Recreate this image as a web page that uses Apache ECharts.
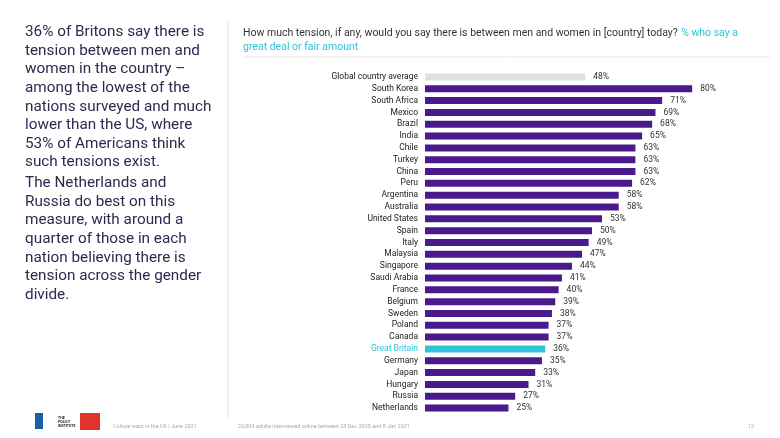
<!DOCTYPE html>
<html><head><meta charset="utf-8">
<script src="https://cdn.jsdelivr.net/npm/echarts@6/dist/echarts.min.js"></script>
<style>html,body{margin:0;padding:0;background:#fff}#c{width:780px;height:438px}</style>
</head><body><div id="c"></div>
<script>
const countries = ['Global country average','South Korea','South Africa','Mexico','Brazil','India','Chile','Turkey','China','Peru','Argentina','Australia','United States','Spain','Italy','Malaysia','Singapore','Saudi Arabia','France','Belgium','Sweden','Poland','Canada','Great Britain','Germany','Japan','Hungary','Russia','Netherlands'];
const values = [48,80,71,69,68,65,63,63,63,62,58,58,53,50,49,47,44,41,40,39,38,37,37,36,35,33,31,27,25];

const colorFor = n => n === 'Global country average' ? '#e0e0e0' : n === 'Great Britain' ? '#2ec4d6' : '#4a1a8c';
const chart = echarts.init(document.getElementById('c'));
const leftText = '36% of Britons say there is\ntension between men and\nwomen in the country –\namong the lowest of the\nnations surveyed and much\nlower than the US, where\n53% of Americans think\nsuch tensions exist.';
const leftText2 = 'The Netherlands and\nRussia do best on this\nmeasure, with around a\nquarter of those in each\nnation believing there is\ntension across the gender\ndivide.';
chart.setOption({
  animation: false,
  textStyle: { fontFamily: 'Roboto' },
  grid: { left: 425, width: 334, top: 71, height: 343 },
  xAxis: { type: 'value', min: 0, max: 100, show: false },
  yAxis: {
    type: 'category', data: countries, inverse: true,
    axisLine: { show: false }, axisTick: { show: false },
    axisLabel: {
      fontSize: 8.5, margin: 7,
      color: v => v === 'Great Britain' ? '#2ec4d6' : '#222'
    }
  },
  series: [{
    type: 'bar', barWidth: 7,
    data: values.map((v, i) => ({ value: v, itemStyle: { color: colorFor(countries[i]) } })),
    label: { show: true, position: 'right', distance: 8, fontSize: 8.5, color: '#333', formatter: '{c}%' }
  }],
  graphic: [
    { type: 'text', left: 25, top: 23, style: { text: leftText, font: '15.3px Roboto', fill: '#2b2b4f', lineHeight: 18.6 } },
    { type: 'text', left: 25, top: 174, style: { text: leftText2, font: '15.3px Roboto', fill: '#2b2b4f', lineHeight: 18.6 } },
    { type: 'line', shape: { x1: 228, y1: 20, x2: 228, y2: 418 }, style: { stroke: '#e4e4e4', lineWidth: 1 } },
    { type: 'line', shape: { x1: 243, y1: 57, x2: 770, y2: 57 }, style: { stroke: '#e4e4e4', lineWidth: 1 } },
    { type: 'text', left: 243, top: 26, style: { rich: { a: { fontSize: 10.5, fill: '#333', fontFamily: 'Roboto' }, b: { fontSize: 10.5, fill: '#2ec4d6', fontFamily: 'Roboto' } },
      text: '{a|How much tension, if any, would you say there is between men and women in [country] today?} {b|% who say a}\n{b|great deal or fair amount}', lineHeight: 14 } },
    { type: 'rect', shape: { x: 35, y: 413, width: 8, height: 16 }, style: { fill: '#1b5ea8' } },
    { type: 'text', left: 58, top: 416, style: { text: 'THE\nPOLICY\nINSTITUTE', font: 'bold 3.5px Roboto', fill: '#222', lineHeight: 4 } },
    { type: 'rect', shape: { x: 80, y: 413, width: 20, height: 17 }, style: { fill: '#e2332a' } },
    { type: 'text', left: 113, top: 424, style: { text: 'Culture wars in the UK | June 2021', font: '5.5px Roboto', fill: '#aaa' } },
    { type: 'text', left: 238, top: 424, style: { text: '23,004 adults interviewed online between 23 Dec 2020 and 8 Jan 2021', font: '5.5px Roboto', fill: '#aaa' } },
    { type: 'text', left: 748, top: 424, style: { text: '12', font: '5.5px Roboto', fill: '#aaa' } }
  ]
});
</script></body></html>
